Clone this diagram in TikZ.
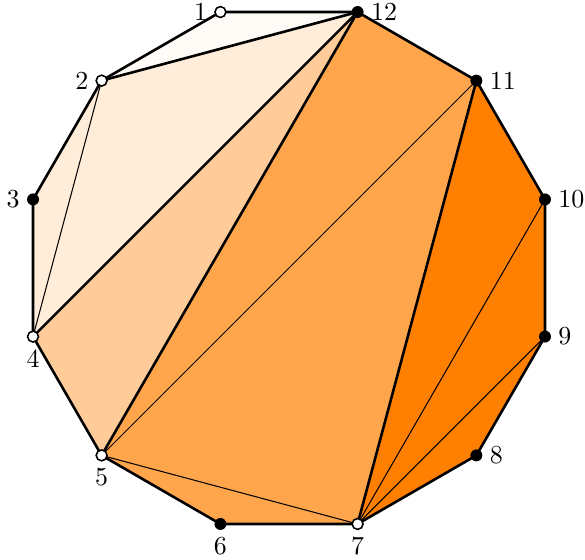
\documentclass[tikz,border=0pt]{standalone}
\usetikzlibrary{calc}
\begin{document}
\begin{tikzpicture}[x=0.385pt,y=0.385pt,
  edge/.style={line width=1pt, line join=round},
  chord/.style={line width=0.4pt},
  opendot/.style={circle, draw=black, fill=white, line width=0.6pt, inner sep=0pt, minimum size=4.2pt},
  fulldot/.style={circle, fill=black, inner sep=0pt, minimum size=4.6pt},
  every label/.style={inner sep=2.5pt}]
\useasboundingbox (0,0) rectangle (585,559);
\coordinate (c) at (289,291);
\foreach \i in {1,...,12} { \path (c) ++ ({75+30*\i}:265) coordinate (v\i); }
% fills
\fill[orange!3]  (v1)--(v2)--(v12)--cycle;
\fill[orange!15] (v2)--(v3)--(v4)--(v12)--cycle;
\fill[orange!40] (v4)--(v5)--(v12)--cycle;
\fill[orange!70] (v5)--(v6)--(v7)--(v11)--(v12)--cycle;
\fill[orange]    (v7)--(v8)--(v9)--(v10)--(v11)--cycle;
% thin chords
\draw[chord] (v2)--(v4);
\draw[chord] (v5)--(v11);
\draw[chord] (v5)--(v7);
\draw[chord] (v7)--(v10);
\draw[chord] (v7)--(v9);
% thick chords
\draw[edge] (v2)--(v12);
\draw[edge] (v4)--(v12);
\draw[edge] (v5)--(v12);
\draw[edge] (v7)--(v11);
% polygon
\draw[edge] (v1)--(v2)--(v3)--(v4)--(v5)--(v6)--(v7)--(v8)--(v9)--(v10)--(v11)--(v12)--cycle;
% vertices
\node[opendot, label=left:1]  (n1)  at (v1)  {};
\node[opendot, label=left:2]  (n2)  at (v2)  {};
\node[fulldot, label=left:3]  (n3)  at (v3)  {};
\node[opendot, label=below:4] (n4)  at (v4)  {};
\node[opendot, label=below:5] (n5)  at (v5)  {};
\node[fulldot, label=below:6] (n6)  at (v6)  {};
\node[opendot, label=below:7] (n7)  at (v7)  {};
\node[fulldot, label=right:8] (n8)  at (v8)  {};
\node[fulldot, label=right:9] (n9)  at (v9)  {};
\node[fulldot, label=right:10] (n10) at (v10) {};
\node[fulldot, label=right:11] (n11) at (v11) {};
\node[fulldot, label=right:12] (n12) at (v12) {};
\end{tikzpicture}
\end{document}
